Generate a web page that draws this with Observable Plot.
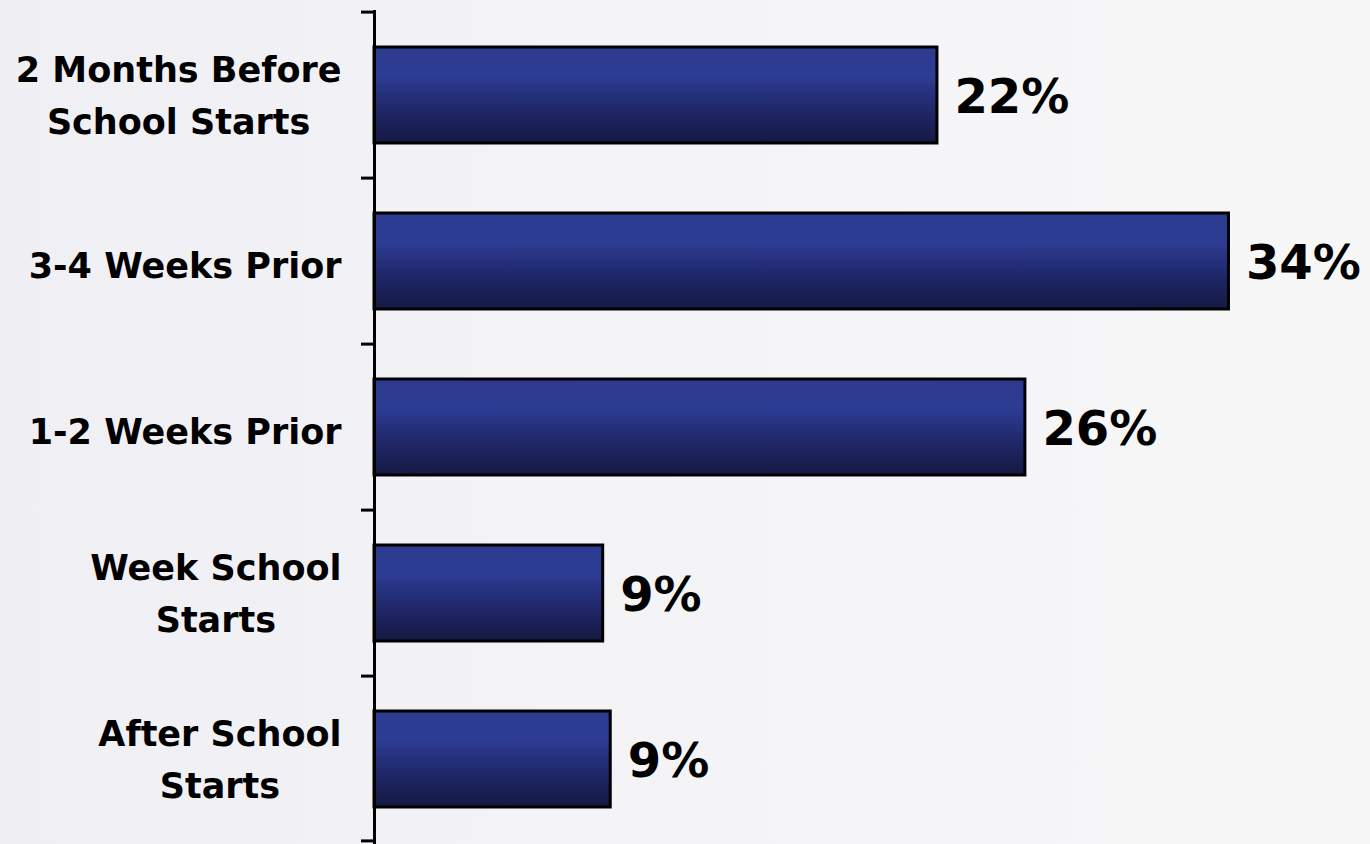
<!DOCTYPE html>
<html><head><meta charset="utf-8">
<script src="https://cdn.jsdelivr.net/npm/d3@7"></script>
<script src="https://cdn.jsdelivr.net/npm/@observablehq/plot@0.6"></script>
<style>
html,body{margin:0;padding:0;}
body{width:1370px;height:844px;overflow:hidden;background:linear-gradient(90deg,#efeff4 0%,#f3f3f6 35%,#f7f7f8 100%);}
#chart svg{display:block;background:transparent;}
</style></head><body><div id="chart"></div>
<script>
const categories = ["2 Months Before\nSchool Starts", "3-4 Weeks Prior", "1-2 Weeks Prior", "Week School\nStarts", "After School\nStarts"];
const shares = [22.4, 34.0, 25.9, 9.1, 9.4];
const valueLabels = ["22%", "34%", "26%", "9%", "9%"];

const data = categories.map((c, i) => ({category: c, share: shares[i], label: valueLabels[i]}));

const W = 1370, H = 844, mL = 374, mT = 10, mB = 0, mR = 41;
const step = (H - mT - mB) / categories.length;
const labelFont = "DejaVu Sans";
const labelSize = 35;
const labelGap = 33;

const canvas = document.createElement("canvas");
const ctx = canvas.getContext("2d");
ctx.font = `bold ${labelSize}px "${labelFont}"`;
function blockWidth(s) { return Math.max(...s.split("\n").map(l => ctx.measureText(l).width)); }

const defs = () => {
  const d = d3.create("svg:defs");
  const g = d.append("linearGradient").attr("id", "barGrad")
    .attr("x1", 0).attr("y1", 0).attr("x2", 0).attr("y2", 1);
  g.append("stop").attr("offset", "0%").attr("stop-color", "#2c3a8f");
  g.append("stop").attr("offset", "30%").attr("stop-color", "#2d3c94");
  g.append("stop").attr("offset", "70%").attr("stop-color", "#1e2563");
  g.append("stop").attr("offset", "100%").attr("stop-color", "#151943");
  return d.node();
};

const labelMarks = categories.map(c => Plot.text([c], {
  y: d => d, frameAnchor: "left", text: d => d,
  textAnchor: "middle", dx: -(labelGap + blockWidth(c) / 2),
  dy: c.includes("\n") ? -4 : 0,
  fontSize: labelSize, fontWeight: "bold", fontFamily: labelFont,
  lineHeight: 1.48, fill: "#000"
}));

const chart = Plot.plot({
  width: W, height: H,
  marginLeft: mL, marginTop: mT, marginBottom: mB, marginRight: mR,
  style: {background: "transparent", fontFamily: labelFont},
  x: {domain: [0, 38], axis: null},
  y: {domain: categories, paddingInner: 0.42, paddingOuter: 0.21, axis: null, label: null},
  marks: [
    defs,
    Plot.barX(data, {y: "category", x: "share", fill: "url(#barGrad)", stroke: "#000", strokeWidth: 3}),
    Plot.ruleX([0], {stroke: "#000", strokeWidth: 3}),
    Plot.axisY({tickSize: 13, text: null, dy: -step / 2, strokeWidth: 3, stroke: "#000"}),
    Plot.axisY([categories[categories.length - 1]], {tickSize: 13, text: null, dy: step / 2 - 2, strokeWidth: 3, stroke: "#000"}),
    ...labelMarks,
    Plot.text(data, {y: "category", x: "share", text: "label", textAnchor: "start", dx: 17, dy: 2,
      fontSize: 48, fontWeight: "bold", fontFamily: labelFont, fill: "#000"})
  ]
});
document.getElementById("chart").appendChild(chart);
</script></body></html>
